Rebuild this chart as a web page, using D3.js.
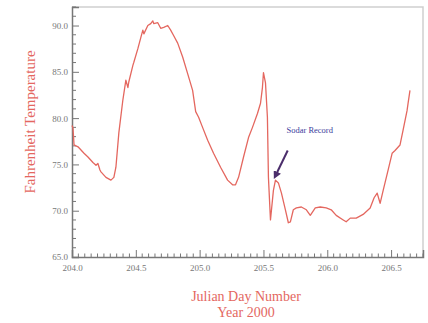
<!DOCTYPE html>
<html>
<head>
<meta charset="utf-8">
<script src="https://cdn.jsdelivr.net/npm/d3@7"></script>
<style>
  body { margin: 0; background: #fff; }
  svg { display: block; }
</style>
</head>
<body>
<svg id="chart" width="428" height="323"></svg>
<script>
// Julian day samples and temperature (F)
const days = [
  204.000, 204.008, 204.016, 204.047, 204.094, 204.125, 204.164, 204.188, 204.203, 204.219,
  204.227, 204.266, 204.305, 204.328, 204.344, 204.367, 204.398, 204.422, 204.438, 204.445,
  204.477, 204.484, 204.516, 204.539, 204.555, 204.563, 204.594, 204.617, 204.633, 204.641,
  204.672, 204.695, 204.719, 204.750, 204.773, 204.797, 204.828, 204.867, 204.906, 204.945,
  204.969, 204.992, 205.023, 205.063, 205.109, 205.164, 205.219, 205.258, 205.281, 205.305,
  205.344, 205.383, 205.414, 205.453, 205.477, 205.492, 205.500, 205.516, 205.531, 205.539,
  205.555, 205.578, 205.594, 205.617, 205.641, 205.672, 205.695, 205.711, 205.734, 205.758,
  205.797, 205.836, 205.867, 205.906, 205.945, 205.992, 206.031, 206.070, 206.125, 206.148,
  206.180, 206.227, 206.281, 206.336, 206.367, 206.391, 206.414, 206.438, 206.477, 206.508,
  206.531, 206.570, 206.594, 206.625, 206.633, 206.648
];
const temps = [
  79.2, 78.9, 77.1, 76.9, 76.2, 75.8, 75.2, 74.9, 75.1, 74.4,
  74.2, 73.6, 73.3, 73.6, 74.7, 78.4, 81.9, 84.1, 83.3, 83.9,
  85.7, 86.0, 87.5, 88.7, 89.5, 89.1, 90.0, 90.2, 90.5, 90.2,
  90.3, 89.7, 89.8, 90.0, 89.5, 88.9, 88.1, 86.6, 84.8, 83.0,
  80.7, 80.1, 79.0, 77.6, 76.2, 74.7, 73.3, 72.8, 72.8, 73.6,
  75.8, 77.9, 79.0, 80.5, 81.6, 83.3, 84.9, 83.8, 80.1, 73.6,
  69.0, 72.2, 73.3, 73.0, 71.9, 70.1, 68.7, 68.8, 70.1, 70.3,
  70.4, 70.1, 69.5, 70.3, 70.4, 70.3, 70.1, 69.5, 69.0, 68.8,
  69.2, 69.2, 69.6, 70.3, 71.4, 71.9, 70.8, 72.2, 74.4, 76.2,
  76.5, 77.1, 78.7, 80.8, 81.6, 83.0
];

const xTicks = [204.0, 204.5, 205.0, 205.5, 206.0, 206.5];
const yTicks = [65, 70, 75, 80, 85, 90];

const annotation = { text: "Sodar Record", day: 205.68, temp: 78.4 };

const red = "#e4675f";
const serif = "'Liberation Serif', 'DejaVu Serif', serif";

const svg = d3.select("#chart");
const margin = { top: 7, right: 5, bottom: 66, left: 72 };
const width = 428 - margin.left - margin.right;
const height = 323 - margin.top - margin.bottom;

const x = d3.scaleLinear().domain([204, 206.75]).range([0, width]);
const y = d3.scaleLinear().domain([65, 92]).range([height, 0]);

const g = svg.append("g").attr("transform", `translate(${margin.left},${margin.top})`);

// frame (top and right)
g.append("path")
  .attr("d", `M0,0H${width}V${height}`)
  .attr("fill", "none")
  .attr("stroke", "#cfcfcf")
  .attr("stroke-width", 1.5);

// minor ticks
const xMinor = d3.range(204, 206.751, 0.05).filter(v => Math.abs(v * 2 - Math.round(v * 2)) > 1e-6);
const yMinor = d3.range(65, 92.01, 1).filter(v => v % 5 !== 0);

const xAxis = g.append("g")
  .attr("transform", `translate(0,${height})`)
  .call(d3.axisBottom(x).tickValues(xTicks).tickSize(-7).tickPadding(8).tickFormat(d3.format(".1f")));
xAxis.selectAll(".minor")
  .data(xMinor).enter().append("line")
  .attr("class", "minor")
  .attr("x1", d => x(d)).attr("x2", d => x(d))
  .attr("y1", 0).attr("y2", -3.5)
  .attr("stroke", "#777");

const yAxis = g.append("g")
  .call(d3.axisLeft(y).tickValues(yTicks).tickSize(-7).tickPadding(4).tickFormat(d3.format(".1f")));
yAxis.selectAll(".minor")
  .data(yMinor).enter().append("line")
  .attr("class", "minor")
  .attr("y1", d => y(d)).attr("y2", d => y(d))
  .attr("x1", 0).attr("x2", 4)
  .attr("stroke", "#777");

g.selectAll(".domain").attr("stroke", "#777").attr("stroke-width", 1.5);
g.selectAll(".tick line").attr("stroke", "#777");
g.selectAll(".tick text")
  .style("font-family", serif)
  .style("font-size", "9px")
  .style("fill", "#777");

// temperature line
const line = d3.line()
  .x((d, i) => x(days[i]))
  .y(d => y(d));

g.append("path")
  .datum(temps)
  .attr("d", line)
  .attr("fill", "none")
  .attr("stroke", red)
  .attr("stroke-width", 1.3)
  .attr("stroke-linejoin", "round");

// annotation
g.append("text")
  .attr("x", x(annotation.day))
  .attr("y", y(annotation.temp))
  .style("font-family", serif)
  .style("font-size", "8.5px")
  .style("fill", "#3b3b9c")
  .text(annotation.text);

svg.append("defs").append("marker")
  .attr("id", "head")
  .attr("viewBox", "0 0 10 10")
  .attr("refX", 5).attr("refY", 5)
  .attr("markerWidth", 4).attr("markerHeight", 4)
  .attr("orient", "auto")
  .append("path")
  .attr("d", "M0,0L10,5L0,10z")
  .attr("fill", "#4b2d6b");

g.append("line")
  .attr("x1", x(205.69)).attr("y1", y(76.5))
  .attr("x2", x(205.595)).attr("y2", y(73.8))
  .attr("stroke", "#4b2d6b")
  .attr("stroke-width", 2)
  .attr("marker-end", "url(#head)");

// axis titles
svg.append("text")
  .attr("transform", `translate(35,122) rotate(-90)`)
  .attr("text-anchor", "middle")
  .style("font-family", serif)
  .style("font-size", "15px")
  .style("fill", red)
  .text("Fahrenheit Temperature");

svg.append("text")
  .attr("x", 246).attr("y", 301)
  .attr("text-anchor", "middle")
  .style("font-family", serif)
  .style("font-size", "14px")
  .style("fill", red)
  .text("Julian Day Number");

svg.append("text")
  .attr("x", 246).attr("y", 317)
  .attr("text-anchor", "middle")
  .style("font-family", serif)
  .style("font-size", "14px")
  .style("fill", red)
  .text("Year  2000");
</script>
</body>
</html>
